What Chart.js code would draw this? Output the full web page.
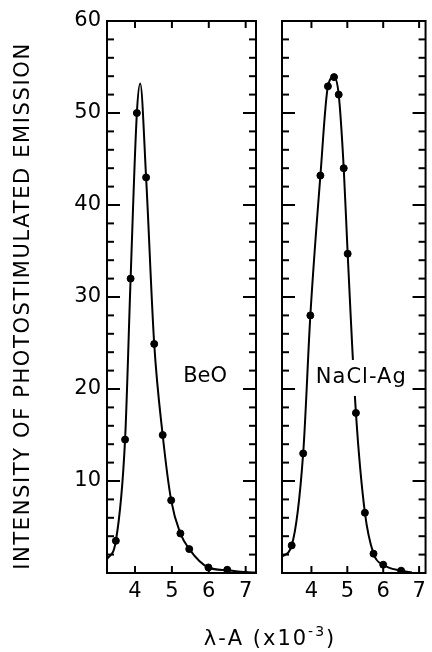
<!DOCTYPE html>
<html>
<head>
<meta charset="utf-8">
<script src="https://cdn.jsdelivr.net/npm/chart.js@4.4.0/dist/chart.umd.min.js"></script>
<style>
html, body { margin: 0; padding: 0; background: #fff; }
#wrap { position: relative; width: 432px; height: 652px; }
#wrap canvas { position: absolute; left: 0; top: 0; }
</style>
</head>
<body>
<div id="wrap">
  <canvas id="leftChart" width="432" height="652"></canvas>
  <canvas id="rightChart" width="432" height="652"></canvas>
</div>
<script>
var beoX = [3.48, 3.73, 3.88, 4.05, 4.30, 4.52, 4.75, 4.98, 5.23, 5.47, 5.99, 6.50];
var beoY = [3.5, 14.5, 32.0, 50.0, 43.0, 24.9, 15.0, 7.9, 4.3, 2.6, 0.6, 0.35];
var beoCurveX = [3.24, 3.48, 3.73, 3.88, 4.05, 4.14, 4.30, 4.52, 4.75, 4.98, 5.23, 5.47, 5.99, 6.50, 7.0, 7.28];
var beoCurveY = [1.5, 3.5, 14.5, 32.0, 50.0, 53.2, 43.0, 24.9, 15.0, 7.9, 4.3, 2.6, 0.6, 0.3, 0.1, 0.05];

var naclX = [3.45, 3.77, 3.97, 4.25, 4.46, 4.63, 4.76, 4.90, 5.01, 5.24, 5.49, 5.73, 6.00, 6.50];
var naclY = [3.0, 13.0, 28.0, 43.2, 52.9, 53.9, 52.0, 44.0, 34.7, 17.4, 6.55, 2.1, 0.9, 0.25];
var naclCurveX = [3.18, 3.45, 3.77, 3.97, 4.25, 4.46, 4.63, 4.76, 4.90, 5.01, 5.24, 5.49, 5.73, 6.00, 6.50, 6.80];
var naclCurveY = [1.8, 3.0, 13.0, 28.0, 43.2, 52.9, 53.9, 52.0, 44.0, 34.7, 17.4, 6.55, 2.1, 0.9, 0.25, 0.05];

var xTicks = [4, 5, 6, 7];
var yTicks = [10, 20, 30, 40, 50, 60];

var yTitle = 'INTENSITY OF PHOTOSTIMULATED EMISSION';
var FONT = '"DejaVu Sans", sans-serif';

function pts(xs, ys) {
    var out = [];
    for (var i = 0; i < xs.length; i++) out.push({x: xs[i], y: ys[i]});
    return out;
}

function line(ctx, x1, y1, x2, y2) {
    ctx.beginPath(); ctx.moveTo(x1, y1); ctx.lineTo(x2, y2); ctx.stroke();
}

// frame with inward ticks on all four sides, plus the panel label
var panelPlugin = {
    id: 'panel',
    afterDatasetsDraw: function(chart, args, opts) {
        var ctx = chart.ctx, a = chart.chartArea;
        var xs = chart.scales.x, ys = chart.scales.y;
        ctx.save();

        // panel label, white box cuts the curve where it crosses
        ctx.font = '21px ' + FONT;
        ctx.letterSpacing = opts.spacing + 'px';
        var lx = xs.getPixelForValue(opts.lx), ly = ys.getPixelForValue(opts.ly);
        var w = ctx.measureText(opts.label).width;
        if (opts.box) {
            ctx.fillStyle = '#fff';
            ctx.fillRect(lx - w / 2 - 2, ly - 18, w + 4, 36);
        }
        ctx.fillStyle = '#000';
        ctx.textAlign = 'center';
        ctx.textBaseline = 'middle';
        ctx.fillText(opts.label, lx, ly);
        ctx.letterSpacing = '0px';

        ctx.strokeStyle = '#000';
        ctx.lineWidth = 2;
        ctx.strokeRect(a.left, a.top, a.right - a.left, a.bottom - a.top);
        for (var v = 2; v < 60; v += 2) {
            var y = ys.getPixelForValue(v);
            var len = (v % 10 === 0) ? 13 : 7;
            line(ctx, a.left, y, a.left + len, y);
            line(ctx, a.right, y, a.right - len, y);
        }
        xTicks.forEach(function(t) {
            var x = xs.getPixelForValue(t);
            line(ctx, x, a.bottom, x, a.bottom - 7);
            line(ctx, x, a.top, x, a.top + 7);
        });
        ctx.restore();
    }
};

// shared axis titles, drawn once on the left canvas
var titlePlugin = {
    id: 'titles',
    afterDraw: function(chart) {
        var ctx = chart.ctx;
        ctx.save();
        ctx.fillStyle = '#000';
        ctx.font = '21px ' + FONT;
        var target = 526;
        var raw = ctx.measureText(yTitle).width;
        ctx.letterSpacing = ((target - raw) / (yTitle.length - 1)) + 'px';
        ctx.translate(24, 306);
        ctx.rotate(-Math.PI / 2);
        ctx.textAlign = 'center';
        ctx.textBaseline = 'middle';
        ctx.fillText(yTitle, 0, 0);
        ctx.restore();

        ctx.save();
        ctx.fillStyle = '#000';
        ctx.textBaseline = 'alphabetic';
        ctx.letterSpacing = '2px';
        var main = '\u03BB-A (x10', sup = '-3', end = ')';
        ctx.font = '21px ' + FONT;
        var w1 = ctx.measureText(main).width, w3 = ctx.measureText(end).width;
        ctx.font = '14px ' + FONT;
        var w2 = ctx.measureText(sup).width;
        var x = 270 - (w1 + w2 + w3) / 2, base = 645;
        ctx.font = '21px ' + FONT;
        ctx.fillText(main, x, base);
        ctx.font = '14px ' + FONT;
        ctx.fillText(sup, x + w1, base - 9);
        ctx.font = '21px ' + FONT;
        ctx.fillText(end, x + w1 + w2, base);
        ctx.restore();
    }
};

function makeChart(id, curveX, curveY, dotX, dotY, xmin, xmax, showY, pad, label) {
    return new Chart(document.getElementById(id), {
        type: 'scatter',
        data: {
            datasets: [{
                data: pts(curveX, curveY),
                showLine: true,
                borderColor: '#000',
                borderWidth: 2,
                pointRadius: 0,
                cubicInterpolationMode: 'monotone'
            }, {
                data: pts(dotX, dotY),
                showLine: false,
                backgroundColor: '#000',
                borderColor: '#000',
                pointRadius: 3.5
            }]
        },
        options: {
            responsive: false,
            animation: false,
            events: [],
            layout: { padding: pad },
            plugins: {
                legend: { display: false },
                tooltip: { enabled: false },
                panel: label
            },
            scales: {
                x: {
                    type: 'linear',
                    min: xmin, max: xmax,
                    grid: { display: false, drawTicks: false },
                    border: { display: false },
                    afterBuildTicks: function(s) { s.ticks = xTicks.map(function(v) { return {value: v}; }); },
                    afterFit: function(s) { s.height = 35; },
                    ticks: { color: '#000', padding: 6, font: { family: FONT, size: 21 } }
                },
                y: {
                    display: showY,
                    min: 0, max: 60,
                    grid: { display: false, drawTicks: false },
                    border: { display: false },
                    afterBuildTicks: function(s) { s.ticks = yTicks.map(function(v) { return {value: v}; }); },
                    afterFit: function(s) { s.width = showY ? 40 : 0; },
                    ticks: { color: '#000', padding: 6, font: { family: FONT, size: 21 } }
                }
            }
        },
        plugins: showY ? [panelPlugin, titlePlugin] : [panelPlugin]
    });
}

makeChart('leftChart', beoCurveX, beoCurveY, beoX, beoY, 3.24, 7.28, true,
    {left: 67, right: 176, top: 21, bottom: 44},
    {label: 'BeO', lx: 5.9, ly: 21.4, box: false, spacing: 0});

makeChart('rightChart', naclCurveX, naclCurveY, naclX, naclY, 3.18, 7.18, false,
    {left: 282, right: 3, top: 21, bottom: 44},
    {label: 'NaCl-Ag', lx: 5.39, ly: 21.2, box: true, spacing: 1});
</script>
</body>
</html>
